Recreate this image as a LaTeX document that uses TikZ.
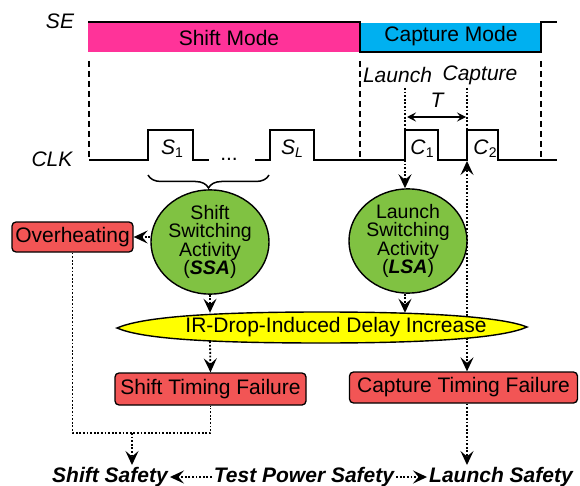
\documentclass[tikz,border=0pt]{standalone}
\usepackage{fontspec}
\setmainfont{Liberation Sans}
\usetikzlibrary{arrows.meta,decorations.pathreplacing,backgrounds,shapes.geometric}
\definecolor{pinkc}{RGB}{255,51,153}
\definecolor{bluec}{RGB}{0,176,240}
\definecolor{greenc}{RGB}{128,194,66}
\definecolor{redc}{RGB}{242,85,85}
\definecolor{yellowc}{RGB}{255,255,0}
\newcommand{\subtxt}[1]{\raisebox{-3pt}{\fontsize{14}{14}\selectfont #1}}
\begin{document}
\begin{tikzpicture}[x=1pt,y=-1pt,
  txt/.style={font=\fontsize{21}{21}\selectfont, inner sep=0pt},
  itxt/.style={font=\fontsize{21}{21}\selectfont\itshape, inner sep=0pt},
  btxt/.style={font=\fontsize{21}{21}\selectfont\bfseries\itshape, inner sep=2pt},
  wave/.style={line width=1.6pt},
  vdash/.style={line width=1.6pt, dash pattern=on 6pt off 4pt},
  dotline/.style={line width=1.8pt, dash pattern=on 1.8pt off 1.8pt},
  dotarrow/.style={dotline, -{Stealth[length=14pt,width=13pt,inset=5.5pt]}},
  fail/.style={draw, line width=1.3pt, rounded corners=4pt, fill=redc,
    font=\fontsize{21}{21}\selectfont, inner sep=0pt, minimum height=31pt},
  act/.style={ellipse, draw, line width=1.4pt, fill=greenc, align=center,
    font=\fontsize{19.5}{18.5}\selectfont, inner sep=0pt}]
\useasboundingbox (0,0) rectangle (580,486);

% SE waveform
\fill[pinkc] (88,22) rectangle (360,52);
\fill[bluec] (360,23) rectangle (541,52);
\draw[wave] (88,22) -- (360,22) -- (360,52) -- (541,52) -- (541,22) -- (557,22);
\node[itxt] (se) at (60,21) {SE};
\node[txt] (shiftm) at (229,38) {Shift Mode};
\node[txt] (captm) at (451,36) {Capture Mode};

% dashed guides
\draw[vdash] (89,61) -- (89,160);
\draw[vdash] (360,61) -- (360,160);
\draw[vdash] (541,61) -- (541,160);

% CLK waveform
\node[itxt] (clk) at (52,159.5) {CLK};
\draw[wave] (89,160) -- (148,160) -- (148,130) -- (193,130) -- (193,160) -- (209,160);
\draw[wave] (255,160) -- (270,160) -- (270,130) -- (314,130) -- (314,160) -- (405,160)
  -- (405,130) -- (438,130) -- (438,160) -- (467,160) -- (467,130) -- (498,130) -- (498,160) -- (557,160);
\node[txt, anchor=base] (dots) at (229,161) {...};
\node[txt] (s1) at (172,149) {\textit{S}\subtxt{1}};
\node[txt] (sl) at (292,149) {\textit{S}\subtxt{\textit{L}}};
\node[txt] (c1) at (422,149) {\textit{C}\subtxt{1}};
\node[txt] (c2) at (485,149) {\textit{C}\subtxt{2}};

% brace
\draw[line width=1.5pt, decorate, decoration={brace, mirror, amplitude=13pt}] (148,175) -- (269,175);

% Launch / Capture
\node[itxt] (launch) at (397.5,75) {Launch};
\node[itxt] (capture) at (480,75) {Capture};
\node[itxt] (T) at (437,100) {T};
\coordinate (tl) at (407,117);
\coordinate (tr) at (466,117);
\draw[line width=1.3pt, {Stealth[length=9pt,width=9pt,inset=3.5pt]}-{Stealth[length=9pt,width=9pt,inset=3.5pt]}] (tl) -- (tr);
\coordinate (launchtop) at (405,88);
\coordinate (capttop) at (467,88);
\coordinate (c2hi) at (467,130);
\coordinate (c2lo) at (467,161);

% activity ellipses
\node[act, minimum width=106pt, minimum height=79pt] (ssa) at (210,242)
  {Shift\\Switching\\Activity\\(\textbf{\textit{SSA}})};
\node[act, minimum width=107pt, minimum height=82pt] (lsa) at (408,241)
  {Launch\\Switching\\Activity\\(\textbf{\textit{LSA}})};

% boxes
\node[fail, minimum width=121pt, minimum height=30pt] (oh) at (72.5,237) {Overheating};
\node[fail, minimum width=191pt, minimum height=32pt] (stf) at (210.5,389) {Shift Timing Failure};
\node[fail, minimum width=228pt] (ctf) at (463.5,387.5) {Capture Timing Failure};

% IR drop lens
\draw[line width=1.4pt, fill=yellowc] (117,328) .. controls (140,318) and (200,312) .. (322,312)
  .. controls (440,312) and (505,318) .. (527,327)
  .. controls (505,337) and (440,343) .. (322,343)
  .. controls (200,343) and (140,338) .. (117,328) -- cycle;
\node[txt, minimum height=28pt] (ir) at (336,327) {IR-Drop-Induced Delay Increase};

% bottom labels
\node[btxt] (ss) at (110,477) {Shift Safety};
\node[btxt] (tps) at (304,477) {Test Power Safety};
\node[btxt] (ls) at (501,477) {Launch Safety};

% connectors
\draw[dotline] (capttop) -- (c2hi);
\draw[dotarrow] (launchtop) -- (launchtop |- lsa.north);
\draw[dotarrow] (oh.east -| ssa.west) -- (oh.east);
\draw[dotarrow] (ssa.south) -- (ssa.south |- ir.north);
\draw[dotarrow] (lsa.south -| launchtop) -- (launchtop |- ir.north);
\draw[dotarrow] (ssa.south |- ir.south) -- (stf.north);
\begin{scope}[on background layer]
  \draw[dotarrow] (c2lo |- ir.center) -- (c2lo);
  \draw[dotarrow] (c2lo |- ir.center) -- (c2lo |- ctf.north);
\end{scope}
\coordinate (j) at (132,433);
\draw[dotline] (oh.south) -- (oh.south |- j) -- (stf.south |- j) -- (stf.south);
\draw[dotarrow] (j) -- (j |- ss.north);
\draw[dotarrow] (c2lo |- ctf.south) -- (c2lo |- ls.north);
\draw[dotarrow] (tps.west) -- (ss.east);
\draw[dotarrow] (tps.east) -- (ls.west);
\end{tikzpicture}
\end{document}
